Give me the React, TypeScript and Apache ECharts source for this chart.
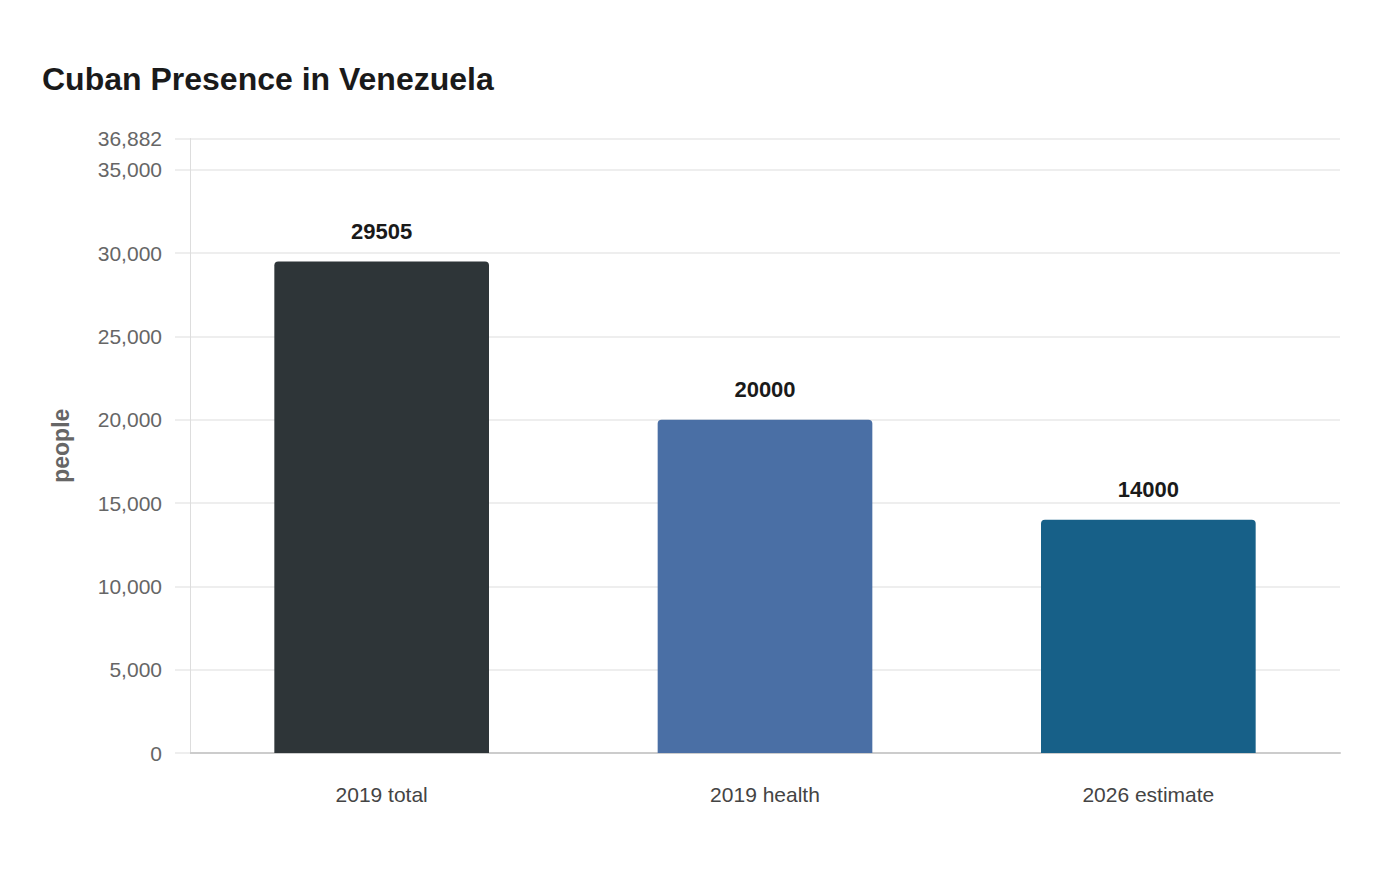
import React, { useEffect, useRef } from "react";
import * as echarts from "echarts";

const categories = ["2019 total", "2019 health", "2026 estimate"];
const values = [29505, 20000, 14000];
const barColors = ["#2e3538", "#4a6fa5", "#176088"];
const yMax = 36882;

export default function App() {
  const ref = useRef<HTMLDivElement>(null);
  useEffect(() => {
    document.body.style.margin = "0";
    const chart = echarts.init(ref.current!, null, { renderer: "svg" });
    chart.setOption({
      animation: false,
      backgroundColor: "#ffffff",
      textStyle: { fontFamily: "Liberation Sans, Arial, sans-serif" },
      title: {
        text: "Cuban Presence in Venezuela",
        left: 37,
        top: 58,
        textStyle: { fontSize: 32, fontWeight: "bold", color: "#1a1a1a" },
      },
      grid: { left: 190, right: 60, top: 138.5, bottom: 127 },
      xAxis: {
        type: "category",
        data: categories,
        axisLine: { lineStyle: { color: "#cccccc", width: 2 } },
        axisTick: { show: false },
        axisLabel: { fontSize: 21, color: "#444444", margin: 31 },
      },
      yAxis: {
        type: "value",
        min: 0,
        max: yMax,
        interval: 5000,
        name: "people",
        nameLocation: "middle",
        nameGap: 118,
        nameTextStyle: { fontSize: 23, fontWeight: "bold", color: "#666666" },
        axisLine: { show: true, lineStyle: { color: "#dddddd", width: 1 } },
        axisTick: { show: true, length: 15, lineStyle: { color: "#eeeeee", width: 2 } },
        axisLabel: {
          fontSize: 21,
          color: "#666666",
          margin: 28,
          formatter: (v: number) => v.toLocaleString("en-US"),
        },
        splitLine: { lineStyle: { color: "#eeeeee", width: 2 } },
      },
      series: [
        {
          type: "bar",
          barWidth: "56%",
          data: values.map((v, i) => ({
            value: v,
            itemStyle: { color: barColors[i], borderRadius: [4, 4, 0, 0] },
          })),
          label: {
            show: true,
            position: "top",
            distance: 19,
            fontSize: 22,
            fontWeight: "bold",
            color: "#1a1a1a",
          },
        },
      ],
    });
    return () => chart.dispose();
  }, []);
  return <div ref={ref} style={{ width: 1400, height: 880 }} />;
}
